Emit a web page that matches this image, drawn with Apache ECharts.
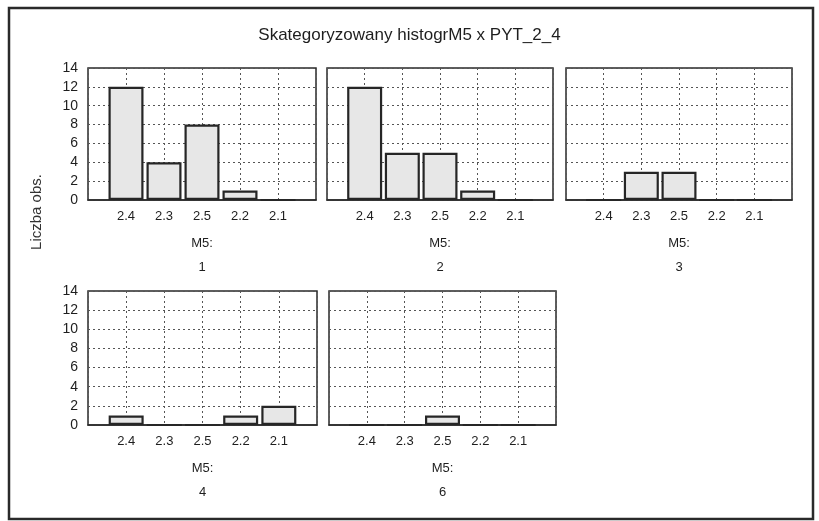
<!DOCTYPE html>
<html>
<head>
<meta charset="utf-8">
<script src="https://cdn.jsdelivr.net/npm/echarts@6/dist/echarts.min.js"></script>
<style>
html,body{margin:0;padding:0;background:#fff;}
#chart{width:819px;height:521px;}
</style>
</head>
<body>
<div id="chart"></div>
<script>
// ---- data ----
const titleText = 'Skategoryzowany histogrM5 x PYT_2_4';
const yAxisTitle = 'Liczba obs.';
const categories = ['2.4', '2.3', '2.5', '2.2', '2.1'];
const panelLabels = ['1', '2', '3', '4', '6'];
const values1 = [12, 4, 8, 1, 0];
const values2 = [12, 5, 5, 1, 0];
const values3 = [0, 3, 3, 0, 0];
const values4 = [1, 0, 0, 1, 2];
const values6 = [0, 0, 1, 0, 0];
const panelValues = [values1, values2, values3, values4, values6];
const yTicks = [0, 2, 4, 6, 8, 10, 12, 14];

// ---- layout ----
const grids = [
  {left: 88, top: 68, width: 228, height: 132},
  {left: 327, top: 68, width: 226, height: 132},
  {left: 566, top: 68, width: 226, height: 132},
  {left: 88, top: 291, width: 229, height: 134},
  {left: 329, top: 291, width: 227, height: 134}
];
const showYLabels = [true, false, false, true, false];

const FONT = '"Liberation Sans", Arial, sans-serif';
const txt = '#1e1e1e';
const axisData = [''].concat(categories, ['']);

const option = {
  animation: false,
  backgroundColor: '#fff',
  title: {
    text: titleText, left: 'center', top: 22,
    textStyle: {fontFamily: FONT, fontSize: 17, fontWeight: 'normal', color: txt}
  },
  graphic: [
    {type: 'rect', shape: {x: 9, y: 8, width: 804, height: 511},
     style: {fill: 'none', stroke: '#2a2a2a', lineWidth: 2.5}, silent: true},
    {type: 'text', x: 37, y: 212, rotation: Math.PI / 2,
     style: {text: yAxisTitle, font: '15px ' + FONT, fill: '#333', textAlign: 'center', textVerticalAlign: 'middle'}}
  ],
  grid: grids.map(g => Object.assign({show: true, borderColor: '#2a2a2a', borderWidth: 1.5, backgroundColor: '#fff', containLabel: false}, g)),
  xAxis: grids.map((g, i) => ({
    type: 'category', gridIndex: i, data: axisData, boundaryGap: false,
    axisLine: {show: true, lineStyle: {color: '#2a2a2a', width: 1.5}},
    axisTick: {show: false},
    axisLabel: {interval: 0, margin: 10, fontFamily: FONT, fontSize: 13, color: txt},
    splitLine: {show: true, lineStyle: {type: [2, 3], color: '#555', width: 1}},
    name: 'M5:\n' + panelLabels[i], nameLocation: 'middle', nameGap: 31,
    nameTextStyle: {fontFamily: FONT, fontSize: 13, color: txt, lineHeight: 24}
  })),
  yAxis: grids.map((g, i) => ({
    type: 'value', gridIndex: i, min: 0, max: 14, interval: 2,
    axisLine: {show: false}, axisTick: {show: false},
    axisLabel: {show: showYLabels[i], margin: 10, fontFamily: FONT, fontSize: 14, color: txt,
      formatter: v => yTicks.includes(v) ? String(v) : ''},
    splitLine: {show: true, lineStyle: {type: [2, 3], color: '#555', width: 1}}
  })),
  series: panelValues.map((vals, i) => ({
    type: 'bar', xAxisIndex: i, yAxisIndex: i,
    data: ['-'].concat(vals, ['-']),
    barWidth: 35,
    itemStyle: {color: '#e7e7e7', borderColor: '#262626', borderWidth: 2.2}
  }))
};

const chart = echarts.init(document.getElementById('chart'), null, {renderer: 'canvas'});
chart.setOption(option);
</script>
</body>
</html>
